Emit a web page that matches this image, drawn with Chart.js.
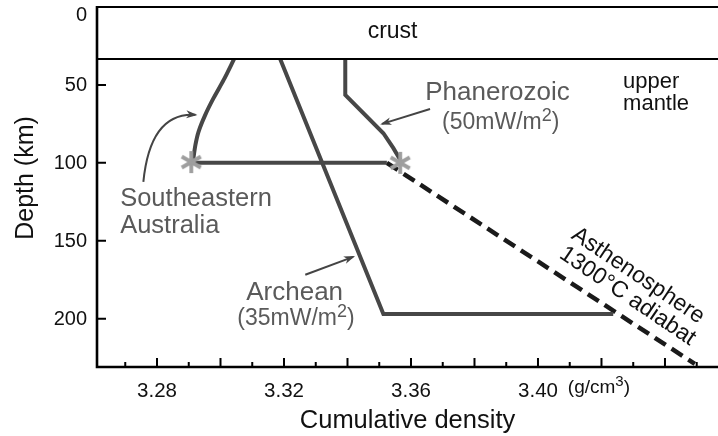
<!DOCTYPE html>
<html>
<head>
<meta charset="utf-8">
<script src="https://cdn.jsdelivr.net/npm/chart.js@4/dist/chart.umd.min.js"></script>
<style>
  html, body { margin: 0; padding: 0; background: #fff; }
  #wrap { width: 718px; height: 436px; }
</style>
</head>
<body>
<div id="wrap"><canvas id="chart" width="718" height="436"></canvas></div>
<script>
// Axis ranges (density in g/cm3, depth in km)
const densityMin = 3.2611;
const densityMax = 3.4567;
const depthMax = 231;
const crustDepth = 33.3;

// Tick values
const depthTicks = [0, 50, 100, 150, 200];
const densityTicks = [3.27, 3.28, 3.29, 3.30, 3.31, 3.32, 3.33, 3.34, 3.35, 3.36,
                      3.37, 3.38, 3.39, 3.40, 3.41, 3.42, 3.43, 3.44, 3.45];
const densityMajor = [3.28, 3.30, 3.32, 3.34, 3.36, 3.38, 3.40, 3.42, 3.44];
const densityLabels = [3.28, 3.32, 3.36, 3.40];

// Profiles
const seAustraliaX = [3.3043, 3.3010, 3.2978, 3.2952, 3.2931, 3.2921, 3.2913];
const seAustraliaDepth = [33.3, 46.8, 58.5, 69.2, 79.9, 88.5, 99.5];
const linkX = [3.2913, 3.3524];
const linkDepth = [100, 100];
const phanerozoicX = [3.3393, 3.3393, 3.3513, 3.3544, 3.3566];
const phanerozoicDepth = [33.3, 56.4, 81, 90.4, 98];
const archeanX = [3.3188, 3.3513, 3.4237];
const archeanDepth = [33.3, 197, 197];
const adiabatX = [3.3524, 3.4494];
const adiabatDepth = [100, 229];
const starX = [3.2908, 3.3566];
const starDepth = [99.5, 100];

const FONT = "'Liberation Sans', Arial, Helvetica, sans-serif";
const LINE = '#474747';
const LABEL = '#5a5a5a';

const toPoints = (xs, ys) => xs.map((x, i) => ({ x: x, y: ys[i] }));

// Asterisk marker
const makeStar = () => {
    const c = document.createElement('canvas');
    c.width = 24; c.height = 24;
    const g = c.getContext('2d');
    g.strokeStyle = '#9e9e9e';
    g.lineWidth = 3.8;
    g.lineCap = 'butt';
    g.translate(12, 12);
    for (let k = 0; k < 3; k++) {
        const a = Math.PI / 2 + k * Math.PI / 3;
        g.beginPath();
        g.moveTo(Math.cos(a) * 11, Math.sin(a) * 11);
        g.lineTo(-Math.cos(a) * 11, -Math.sin(a) * 11);
        g.stroke();
    }
    return c;
};

// Annotation text placement (data coordinates)
const notes = [
    { text: 'crust', x: 3.3542, y: 16.0, size: 23, color: '#111', align: 'center', base: 'middle' },
    { text: 'upper', x: 3.4268, y: 51.9, size: 22, color: '#111' },
    { text: 'mantle', x: 3.4268, y: 66.0, size: 22, color: '#111' },
    { text: 'Phanerozoic', x: 3.3645, y: 59.6, size: 26, color: LABEL },
    { text: '(50mW/m', sup: '2', tail: ')', x: 3.3698, y: 78.2, size: 23, color: LABEL },
    { text: 'Southeastern', x: 3.2684, y: 127.6, size: 25.5, color: LABEL },
    { text: 'Australia', x: 3.2684, y: 144.9, size: 25.5, color: LABEL },
    { text: 'Archean', x: 3.3081, y: 187.8, size: 26, color: LABEL },
    { text: '(35mW/m', sup: '2', tail: ')', x: 3.3053, y: 203.8, size: 23, color: LABEL },
    { text: '(g/cm', sup: '3', tail: ')', x: 3.4094, y: 247.4, size: 19, color: '#111' }
];
const rotatedNotes = [
    { text: 'Asthenosphere', x: 3.4315, y: 172.4 },
    { text: '1300°C adiabat', x: 3.4282, y: 185.6 }
];
const rotateDeg = 34;

// Arrows: [fromX, fromY, toX, toY, ctrlX, ctrlY]
const arrows = [
    [3.2757, 112.2, 3.2921, 69.2, 3.2779, 67.3],
    [3.3660, 65.4, 3.3509, 75.0],
    [3.3267, 171.8, 3.3418, 160.3]
];

const drawText = (ctx, n, px, py) => {
    ctx.fillStyle = n.color;
    ctx.font = n.size + 'px ' + FONT;
    ctx.textAlign = n.align || 'left';
    ctx.textBaseline = n.base || 'alphabetic';
    ctx.fillText(n.text, px, py);
    if (n.sup) {
        let x = px + ctx.measureText(n.text).width;
        ctx.font = Math.round(n.size * 0.8) + 'px ' + FONT;
        ctx.fillText(n.sup, x, py - n.size * 0.33);
        x += ctx.measureText(n.sup).width;
        ctx.font = n.size + 'px ' + FONT;
        ctx.fillText(n.tail, x, py);
    }
};

const decorations = {
    id: 'decorations',
    afterDraw(chart) {
        const ctx = chart.ctx;
        const xs = chart.scales.x;
        const ys = chart.scales.y;
        const area = chart.chartArea;
        ctx.save();

        // frame
        ctx.strokeStyle = '#000';
        ctx.lineWidth = 2;
        ctx.beginPath();
        ctx.moveTo(area.left, area.top); ctx.lineTo(area.right, area.top);
        const cy = ys.getPixelForValue(crustDepth);
        ctx.moveTo(area.left, cy); ctx.lineTo(area.right, cy);
        ctx.stroke();
        ctx.lineWidth = 2.6;
        ctx.beginPath();
        ctx.moveTo(area.left, area.top - 1); ctx.lineTo(area.left, area.bottom);
        ctx.lineTo(area.right, area.bottom);
        ctx.stroke();

        // inward ticks
        ctx.lineWidth = 2;
        ctx.beginPath();
        depthTicks.forEach(v => {
            const p = ys.getPixelForValue(v);
            ctx.moveTo(area.left, p); ctx.lineTo(area.left + 9, p);
        });
        densityTicks.forEach(v => {
            const p = xs.getPixelForValue(v);
            const major = densityMajor.some(m => Math.abs(m - v) < 1e-6);
            ctx.moveTo(p, area.bottom); ctx.lineTo(p, area.bottom - (major ? 9 : 5));
        });
        ctx.stroke();

        // depth tick labels
        ctx.fillStyle = '#111';
        ctx.font = '20px ' + FONT;
        ctx.textAlign = 'right';
        ctx.textBaseline = 'middle';
        depthTicks.forEach(v => {
            const p = ys.getPixelForValue(v) + (v === 0 ? 8 : 1);
            ctx.fillText(String(v), 87, p);
        });

        // y title
        ctx.save();
        ctx.translate(26, 178);
        ctx.rotate(-Math.PI / 2);
        ctx.font = '25px ' + FONT;
        ctx.textAlign = 'center';
        ctx.textBaseline = 'middle';
        ctx.fillText('Depth (km)', 0, 0);
        ctx.restore();

        // labels
        notes.forEach(n => drawText(ctx, n, xs.getPixelForValue(n.x), ys.getPixelForValue(n.y)));

        rotatedNotes.forEach(n => {
            ctx.save();
            ctx.translate(xs.getPixelForValue(n.x), ys.getPixelForValue(n.y));
            ctx.rotate(rotateDeg * Math.PI / 180);
            ctx.fillStyle = '#111';
            ctx.font = '23px ' + FONT;
            ctx.textAlign = 'center';
            ctx.textBaseline = 'middle';
            ctx.fillText(n.text, 0, 0);
            ctx.restore();
        });

        // arrows
        ctx.strokeStyle = '#444';
        ctx.fillStyle = '#444';
        ctx.lineWidth = 2;
        arrows.forEach(a => {
            const x0 = xs.getPixelForValue(a[0]), y0 = ys.getPixelForValue(a[1]);
            const x1 = xs.getPixelForValue(a[2]), y1 = ys.getPixelForValue(a[3]);
            let ang;
            ctx.beginPath();
            ctx.moveTo(x0, y0);
            if (a.length > 4) {
                const cx = xs.getPixelForValue(a[4]), cyy = ys.getPixelForValue(a[5]);
                ctx.quadraticCurveTo(cx, cyy, x1, y1);
                ang = Math.atan2(y1 - cyy, x1 - cx);
            } else {
                ctx.lineTo(x1, y1);
                ang = Math.atan2(y1 - y0, x1 - x0);
            }
            ctx.stroke();
            ctx.beginPath();
            ctx.moveTo(x1 + Math.cos(ang) * 2, y1 + Math.sin(ang) * 2);
            ctx.lineTo(x1 - Math.cos(ang - 0.4) * 10, y1 - Math.sin(ang - 0.4) * 10);
            ctx.lineTo(x1 - Math.cos(ang) * 6, y1 - Math.sin(ang) * 6);
            ctx.lineTo(x1 - Math.cos(ang + 0.4) * 10, y1 - Math.sin(ang + 0.4) * 10);
            ctx.closePath();
            ctx.fill();
        });

        ctx.restore();
    }
};

const lineSet = (xs, ys, extra) => Object.assign({
    data: toPoints(xs, ys),
    showLine: true,
    borderColor: LINE,
    borderWidth: 4,
    pointRadius: 0,
    fill: false,
    tension: 0
}, extra || {});

new Chart(document.getElementById('chart'), {
    type: 'scatter',
    data: {
        datasets: [
            {
                data: toPoints(starX, starDepth),
                pointStyle: makeStar(),
                pointRadius: 12,
                showLine: false
            },
            lineSet(seAustraliaX, seAustraliaDepth, { tension: 0.3 }),
            lineSet(linkX, linkDepth),
            lineSet(phanerozoicX, phanerozoicDepth),
            lineSet(archeanX, archeanDepth),
            lineSet(adiabatX, adiabatDepth, { borderColor: '#1a1a1a', borderWidth: 4.5, borderDash: [13, 7] })
        ]
    },
    options: {
        responsive: false,
        animation: false,
        events: [],
        layout: { autoPadding: false, padding: { top: 7, right: 0, left: 0, bottom: 0 } },
        plugins: {
            legend: { display: false },
            tooltip: { enabled: false }
        },
        scales: {
            x: {
                type: 'linear',
                min: densityMin,
                max: densityMax,
                afterFit: s => { s.height = 69; s.paddingLeft = 0; s.paddingRight = 0; },
                afterBuildTicks: s => { s.ticks = densityTicks.map(v => ({ value: v })); },
                grid: { display: false, drawTicks: false },
                border: { display: false },
                ticks: {
                    autoSkip: false,
                    maxRotation: 0,
                    padding: 12,
                    color: '#111',
                    font: { family: FONT, size: 20.5 },
                    callback: v => densityLabels.some(l => Math.abs(l - v) < 1e-6) ? v.toFixed(2) : ''
                },
                title: {
                    display: true,
                    text: 'Cumulative density',
                    color: '#111',
                    font: { family: FONT, size: 25.5 },
                    padding: { top: 0, bottom: 0 }
                }
            },
            y: {
                type: 'linear',
                reverse: true,
                min: 0,
                max: depthMax,
                afterFit: s => { s.width = 97; s.paddingTop = 0; s.paddingBottom = 0; },
                afterBuildTicks: s => { s.ticks = depthTicks.map(v => ({ value: v })); },
                grid: { display: false, drawTicks: false },
                border: { display: false },
                ticks: { display: false }
            }
        }
    },
    plugins: [decorations]
});
</script>
</body>
</html>
